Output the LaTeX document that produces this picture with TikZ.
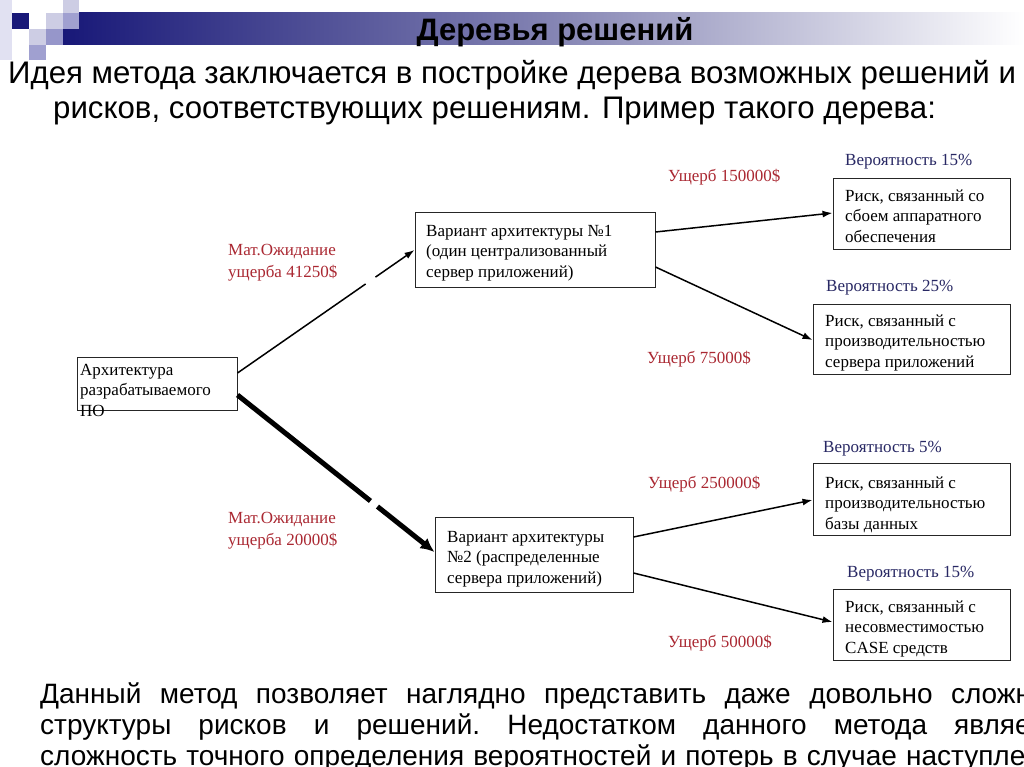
\documentclass[tikz,border=0pt]{standalone}
\usepackage{fontspec}
\setmainfont{Liberation Serif}
\newfontfamily\titlefont{Liberation Sans}
\newfontfamily\bodyfont{Liberation Sans}
\usetikzlibrary{arrows.meta,calc}
\definecolor{navy}{RGB}{24,24,120}
\definecolor{barmid}{RGB}{130,130,178}
\definecolor{lavA}{RGB}{205,205,228}
\definecolor{lavB}{RGB}{160,160,208}
\definecolor{lavC}{RGB}{150,150,202}
\definecolor{lavD}{RGB}{225,225,242}
\definecolor{redlbl}{RGB}{170,40,50}
\definecolor{bluelbl}{RGB}{40,40,100}
\tikzset{
  box/.style={draw=black!85, line width=1pt, inner sep=0pt, rectangle},
  boxtext/.style={inner sep=0pt, anchor=north west, align=left, font=\fontsize{17}{20.5}\selectfont},
  redtext/.style={inner sep=0pt, text=redlbl, font=\fontsize{17}{20.5}\selectfont},
  redtwo/.style={inner sep=0pt, anchor=north west, align=left, text=redlbl, font=\fontsize{17}{22}\selectfont},
  bluetext/.style={inner sep=0pt, anchor=base west, text=bluelbl, font=\fontsize{17}{20.5}\selectfont},
  conn/.style={line width=1.5pt, -{Latex[length=10pt,width=7pt]}},
  thickconn/.style={line width=5pt, -{Latex[length=14pt,width=13pt]}},
  bottomtext/.style={inner sep=0pt, anchor=base west, font=\bodyfont\fontsize{28}{30}\selectfont},
}
\begin{document}
\begin{tikzpicture}[x=1pt,y=-1pt]
\useasboundingbox (0,0) rectangle (1024,767);
\clip (0,0) rectangle (1024,767);
\fill[white] (0,0) rectangle (1024,767);
% decoration
\fill[lavD] (0,0) rectangle (12,60);
\shade[left color=navy, right color=white, middle color=barmid] (63,13) rectangle (1024,45);
\fill[navy] (12,13) rectangle (29,29);
\fill[lavA] (63,0) rectangle (79,13);
\fill[lavA] (46,13) rectangle (63,29);
\fill[lavB] (63,13) rectangle (79,29);
\fill[lavA] (29,29) rectangle (46,45);
\fill[lavC] (46,29) rectangle (63,45);
\fill[lavB] (29,45) rectangle (46,60);
\node[inner sep=0pt, anchor=base, font=\titlefont\bfseries\fontsize{31}{33}\selectfont] (title) at (555,41) {Деревья решений};
% intro text
\node[inner sep=0pt, anchor=base west, font=\bodyfont\fontsize{31.2}{34}\selectfont] (intro1) at (8,84) {Идея метода заключается в постройке дерева возможных решений и};
\node[inner sep=0pt, anchor=base west, font=\bodyfont\fontsize{31.2}{34}\selectfont] (intro2) at (53,119) {рисков, соответствующих решениям. Пример такого дерева:};
% boxes
\node[box, minimum width=160pt, minimum height=53pt] (root) at (157,383.5) {};
\node[box, minimum width=240pt, minimum height=74pt] (v1) at (535,250) {};
\node[box, minimum width=198pt, minimum height=75pt] (v2) at (534,554.5) {};
\node[box, minimum width=177pt, minimum height=70pt] (r1) at (921.5,214) {};
\node[box, minimum width=197pt, minimum height=70pt] (r2) at (911.5,339) {};
\node[box, minimum width=197pt, minimum height=72pt] (r3) at (911.5,499) {};
\node[box, minimum width=177pt, minimum height=71pt] (r4) at (921.5,624.5) {};
% box texts
\node[boxtext] (roott) at (80,360.7) {\strut Архитектура\\разрабатываемого\\ПО};
\node[boxtext] (v1t) at (426,221.6) {\strut Вариант архитектуры №1\\(один централизованный\\сервер приложений)};
\node[boxtext] (v2t) at (447,527.6) {\strut Вариант архитектуры\\№2 (распределенные\\сервера приложений)};
\node[boxtext] (r1t) at (845,186.6) {\strut Риск, связанный со\\сбоем аппаратного\\обеспечения};
\node[boxtext] (r2t) at (825,311.6) {\strut Риск, связанный с\\производительностью\\сервера приложений};
\node[boxtext] (r3t) at (825,473.6) {\strut Риск, связанный с\\производительностью\\базы данных};
\node[boxtext] (r4t) at (845,597.6) {\strut Риск, связанный с\\несовместимостью\\CASE средств};
% labels
\node[bluetext] (p1) at (845,166) {Вероятность 15\%};
\node[bluetext] (p2) at (826,291) {Вероятность 25\%};
\node[bluetext] (p3) at (823,452) {Вероятность 5\%};
\node[bluetext] (p4) at (847,577) {Вероятность 15\%};
\node[redtext, anchor=base west] (d1) at (668,182) {Ущерб 150000\$};
\node[redtext, anchor=base west] (d2) at (647,363) {Ущерб 75000\$};
\node[redtext, anchor=base west] (d3) at (648,488) {Ущерб 250000\$};
\node[redtext, anchor=base west] (d4) at (668,647) {Ущерб 50000\$};
\node[redtwo] (m1) at (228,239.6) {\strut Мат.Ожидание\\ущерба 41250\$};
\node[redtwo] (m2) at (228,507.6) {\strut Мат.Ожидание\\ущерба 20000\$};
% connectors
\draw[conn, dash pattern=on 156pt off 12pt on 200pt] ([yshift=10.5pt]root.east) -- (v1.west);
\draw[thickconn, dash pattern=on 170pt off 9pt on 200pt] ([yshift=-11.5pt]root.east) -- ([yshift=2.5pt]v2.west);
\draw[conn] ([yshift=18pt]v1.east) -- ([yshift=1pt]r1.west);
\draw[conn] ([yshift=-17pt]v1.east) -- ([yshift=-1pt]r2.west);
\draw[conn] ([yshift=17.5pt]v2.east) -- ([yshift=-1pt]r3.west);
\draw[conn] ([yshift=-18.5pt]v2.east) -- ([yshift=2.5pt]r4.west);
% bottom text (cut off at the right and bottom edges as in the slide)
\node[bottomtext] (b1) at (40,703) {\hbox to 911pt{Данный\hfill метод\hfill позволяет\hfill наглядно\hfill представить\hfill даже\hfill довольно\hfill}сложные};
\node[bottomtext] (b2) at (40,734) {\hbox to 914pt{структуры\hfill рисков\hfill и\hfill решений.\hfill Недостатком\hfill данного\hfill метода\hfill}является};
\node[bottomtext] (b3) at (40,765) {\hbox to 866pt{сложность\hfill точного\hfill определения\hfill вероятностей\hfill и\hfill потерь\hfill в\hfill случае\hfill}наступления};
\end{tikzpicture}
\end{document}
